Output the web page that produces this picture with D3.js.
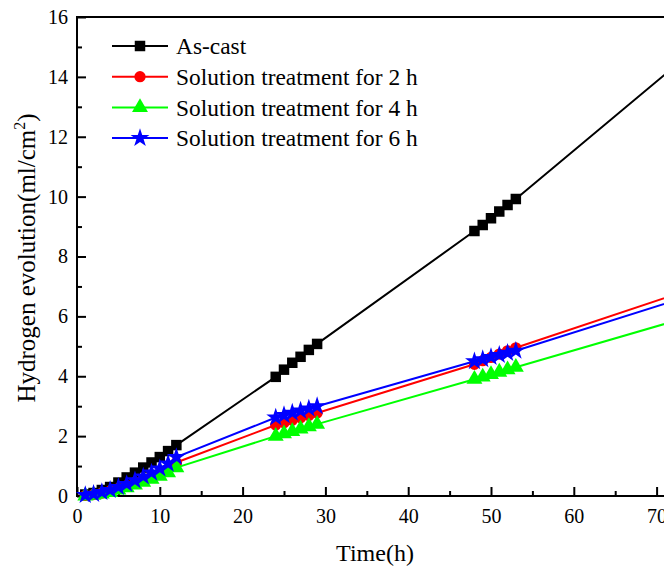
<!DOCTYPE html>
<html>
<head>
<meta charset="utf-8">
<script src="https://cdn.jsdelivr.net/npm/d3@7"></script>
<style>
  body { margin: 0; background: #fff; }
  svg { display: block; font-family: "Liberation Serif", "Times New Roman", serif; }
</style>
</head>
<body>
<svg id="chart" width="664" height="569"></svg>
<script>
const width = 664;
const height = 569;

// hours at which each sample was measured
const hours = [1, 2, 3, 4, 5, 6, 7, 8, 9, 10, 11, 12,
               24, 25, 26, 27, 28, 29,
               48, 49, 50, 51, 52, 53, 72];

// hydrogen volume (ml/cm2)
const asCast = [0.05, 0.1, 0.2, 0.3, 0.45, 0.62, 0.78, 0.95, 1.12, 1.3, 1.5, 1.7,
                3.98, 4.22, 4.45, 4.65, 4.88, 5.08,
                8.85, 9.05, 9.28, 9.5, 9.72, 9.92, 14.31];
const st2h = [0.02, 0.05, 0.1, 0.17, 0.25, 0.35, 0.45, 0.55, 0.66, 0.77, 0.9, 1.12,
              2.37, 2.45, 2.53, 2.61, 2.69, 2.77,
              4.4, 4.52, 4.63, 4.74, 4.85, 4.95, 6.71];
const st4h = [0.0, 0.03, 0.07, 0.12, 0.2, 0.28, 0.37, 0.46, 0.56, 0.66, 0.78, 0.95,
              2.0, 2.08, 2.16, 2.24, 2.32, 2.4,
              3.9, 3.98, 4.06, 4.14, 4.22, 4.3, 5.83];
const st6h = [0.03, 0.07, 0.13, 0.2, 0.3, 0.4, 0.52, 0.65, 0.78, 0.92, 1.08, 1.3,
              2.62, 2.7, 2.78, 2.85, 2.92, 3.0,
              4.5, 4.57, 4.64, 4.71, 4.78, 4.85, 6.51];

const seriesNames = ["As-cast", "Solution treatment for 2 h", "Solution treatment for 4 h", "Solution treatment for 6 h"];
const seriesColors = ["#000000", "#ff0000", "#00ff00", "#0000ff"];
const seriesSymbols = [d3.symbolSquare, d3.symbolCircle, d3.symbolTriangle, d3.symbolStar];
const seriesSizes = [110, 100, 110, 110];

const xTicks = [0, 10, 20, 30, 40, 50, 60, 70];
const yTicks = [0, 2, 4, 6, 8, 10, 12, 14, 16];

const margin = { left: 77, top: 17, bottom: 73 };
const plotRight = 77 + 72 * 8.28;

const x = d3.scaleLinear().domain([0, 72]).range([margin.left, plotRight]);
const y = d3.scaleLinear().domain([0, 16]).range([height - margin.bottom, margin.top]);

const svg = d3.select("#chart");

svg.append("defs").append("clipPath").attr("id", "plot-clip")
    .append("rect")
    .attr("x", margin.left - 8)
    .attr("y", margin.top - 8)
    .attr("width", plotRight - margin.left + 16)
    .attr("height", y(0) - margin.top + 16);

// plot frame
svg.append("rect")
    .attr("x", x(0))
    .attr("y", y(16))
    .attr("width", x(72) - x(0))
    .attr("height", y(0) - y(16))
    .attr("fill", "none")
    .attr("stroke", "#000")
    .attr("stroke-width", 2);

// axes, ticks pointing inward
svg.append("g")
    .attr("transform", `translate(0,${y(0)})`)
    .call(d3.axisBottom(x).tickValues(xTicks).tickSize(-9).tickPadding(13).tickFormat(d3.format("d")));
svg.append("g")
    .attr("transform", `translate(0,${y(0)})`)
    .call(d3.axisBottom(x).tickValues(d3.range(5, 72, 10)).tickSize(-5).tickFormat(""));

svg.append("g")
    .attr("transform", `translate(${x(0)},0)`)
    .call(d3.axisLeft(y).tickValues(yTicks).tickSize(-9).tickPadding(9).tickFormat(d3.format("d")));
svg.append("g")
    .attr("transform", `translate(${x(0)},0)`)
    .call(d3.axisLeft(y).tickValues(d3.range(1, 16, 2)).tickSize(-5).tickFormat(""));

svg.selectAll(".domain").remove();
svg.selectAll(".tick line").attr("stroke", "#000").attr("stroke-width", 2);
svg.selectAll(".tick text")
    .attr("font-family", "Liberation Serif")
    .attr("font-size", 20)
    .attr("fill", "#000");

// series
const allValues = [asCast, st2h, st4h, st6h];
const line = d3.line().x(d => x(d[0])).y(d => y(d[1]));
const plot = svg.append("g").attr("clip-path", "url(#plot-clip)");

allValues.forEach((vals, i) => {
    const pts = hours.map((h, j) => [h, vals[j]]);
    const g = plot.append("g");
    g.append("path")
        .datum(pts)
        .attr("d", line)
        .attr("fill", "none")
        .attr("stroke", seriesColors[i])
        .attr("stroke-width", 2);
    g.selectAll("path.pt")
        .data(pts)
        .enter().append("path")
        .attr("class", "pt")
        .attr("transform", d => `translate(${x(d[0])},${y(d[1])})`)
        .attr("d", d3.symbol().type(seriesSymbols[i]).size(seriesSizes[i]))
        .attr("fill", seriesColors[i]);
});

// legend
const legend = svg.append("g").attr("transform", "translate(112,46)");
seriesNames.forEach((name, i) => {
    const row = legend.append("g").attr("transform", `translate(0,${i * 30.7})`);
    row.append("line")
        .attr("x1", 0).attr("x2", 56)
        .attr("stroke", seriesColors[i])
        .attr("stroke-width", 2);
    row.append("path")
        .attr("transform", "translate(28,0)")
        .attr("d", d3.symbol().type(seriesSymbols[i]).size(seriesSizes[i]))
        .attr("fill", seriesColors[i]);
    row.append("text")
        .attr("x", 64)
        .attr("dy", "0.35em")
        .attr("font-size", 23.4)
        .attr("fill", "#000")
        .text(name);
});

// axis titles
svg.append("text")
    .attr("x", 375)
    .attr("y", 561)
    .attr("text-anchor", "middle")
    .attr("font-size", 24)
    .text("Time(h)");

const yTitle = svg.append("text")
    .attr("transform", `translate(35,258) rotate(-90)`)
    .attr("text-anchor", "middle")
    .attr("font-size", 25);
yTitle.append("tspan").text("Hydrogen evolution(ml/cm");
yTitle.append("tspan").attr("font-size", 16).attr("dy", -10).text("2");
yTitle.append("tspan").attr("dy", 10).text(")");
</script>
</body>
</html>
